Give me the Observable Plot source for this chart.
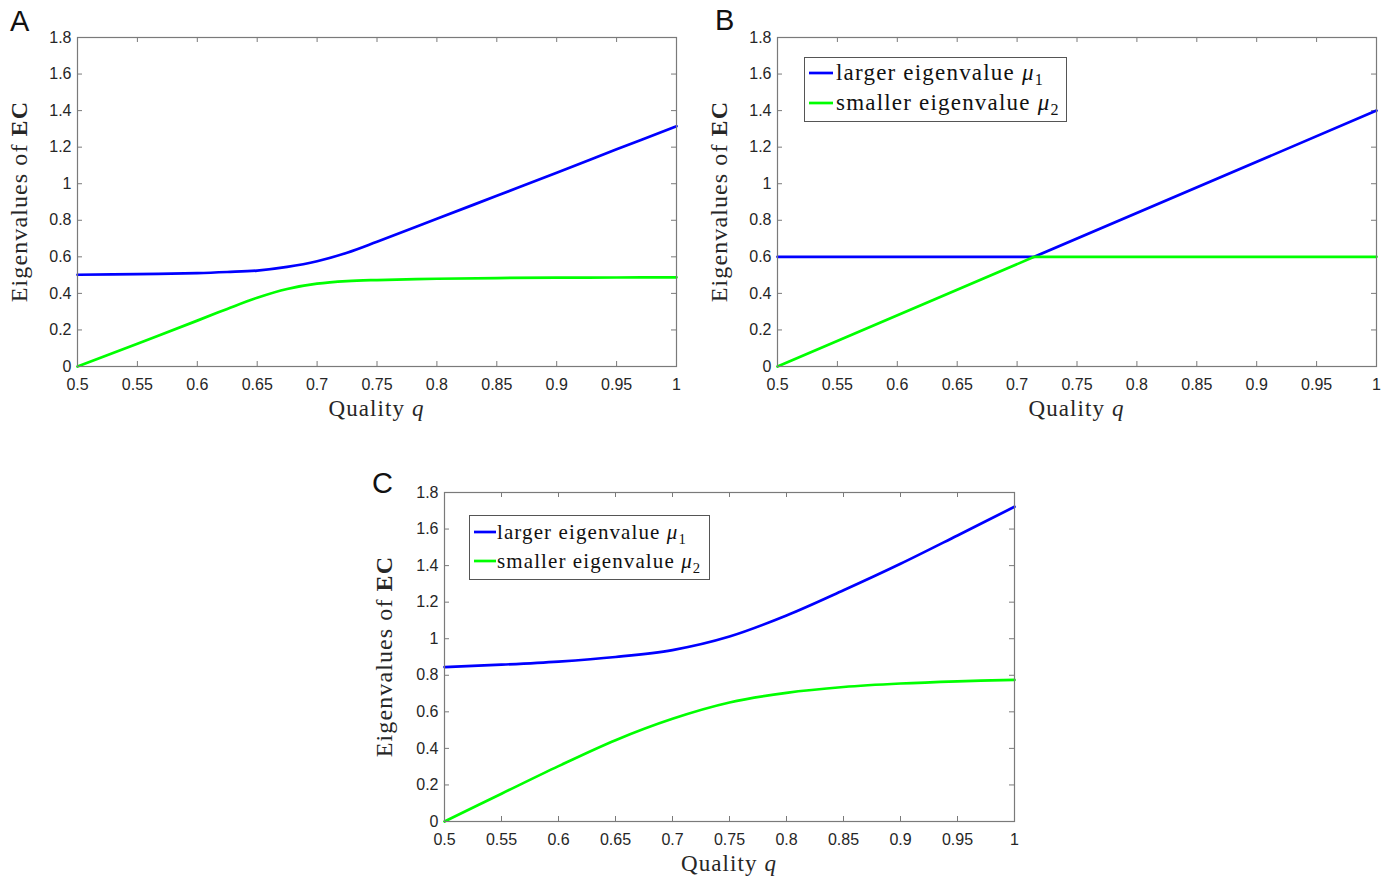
<!DOCTYPE html>
<html>
<head>
<meta charset="utf-8">
<script src="https://cdn.jsdelivr.net/npm/d3@7"></script>
<script src="https://cdn.jsdelivr.net/npm/@observablehq/plot@0.6"></script>
<style>
  body { margin: 0; background: #fff; }
  #wrap { position: relative; width: 1391px; height: 881px; overflow: hidden; background: #fff; }
  .panel { position: absolute; }
</style>
</head>
<body>
<div id="wrap"></div>
<script>
// ---- tick labels ----
const qTicks = [0.5, 0.55, 0.6, 0.65, 0.7, 0.75, 0.8, 0.85, 0.9, 0.95, 1];
const yTicks = [0, 0.2, 0.4, 0.6, 0.8, 1, 1.2, 1.4, 1.6, 1.8];

// ---- series ----
const seriesNames = ["larger eigenvalue", "smaller eigenvalue"];
const seriesSymbols = ["1", "2"];
const seriesColors = ["#0000ff", "#00ff00"];

// Panel A
const qA       = [0.5,   0.55,  0.6,   0.625, 0.65,  0.675, 0.7,   0.725, 0.75,  0.8,   0.85,  0.9,   0.95,  1];
const largerA  = [0.502, 0.505, 0.511, 0.517, 0.525, 0.545, 0.576, 0.622, 0.682, 0.808, 0.934, 1.06,  1.188, 1.315];
const smallerA = [0,     0.124, 0.251, 0.315, 0.376, 0.424, 0.453, 0.467, 0.473, 0.48,  0.484, 0.486, 0.487, 0.488];

// Panel B
const qB       = [0.5, 0.7143, 1];
const largerB  = [0.6, 0.6,    1.4];
const smallerB = [0,   0.6,    0.6];

// Panel C
const qC       = [0.5,   0.55,  0.6,   0.65,  0.7,   0.75,  0.8,   0.85,  0.9,   0.95,  1];
const largerC  = [0.845, 0.858, 0.875, 0.9,   0.938, 1.012, 1.127, 1.265, 1.41,  1.565, 1.722];
const smallerC = [0,     0.152, 0.303, 0.445, 0.562, 0.651, 0.704, 0.736, 0.755, 0.767, 0.775];

const panels = [
  {letter: "A", q: qA, larger: largerA, smaller: smallerA, curve: "catmull-rom",
   left: 77, top: 37, w: 599, h: 329, letterX: 8, letterY: 31, ylabDx: -50, legend: null},
  {letter: "B", q: qB, larger: largerB, smaller: smallerB, curve: "linear",
   left: 777, top: 37, w: 599, h: 329, letterX: 13, letterY: 30, ylabDx: -50,
   legend: {x: 27, y: 20, w: 262, h: 64, rows: [36, 66], sw0: 32, sw1: 56, tx: 59, fs: 23, ls: 1.2}},
  {letter: "C", q: qC, larger: largerC, smaller: smallerC, curve: "catmull-rom",
   left: 444, top: 492, w: 570, h: 329, letterX: 3, letterY: 38, ylabDx: -52,
   legend: {x: 25, y: 23, w: 240, h: 64, rows: [40, 69], sw0: 30, sw1: 52, tx: 53, fs: 21, ls: 1.1}}
];

const ML = 75, MT = 37, MR = 15, MB = 60;
const axisColor = "#7a7a7a";
const textColor = "#262626";
const fmtQ = d => String(+d.toFixed(2));
const fmtY = d => String(+d.toFixed(1));
const wrap = document.getElementById("wrap");

for (const p of panels) {
  const W = ML + p.w + MR, H = MT + p.h + MB;
  const ptsL = p.q.map((q, i) => [q, p.larger[i]]);
  const ptsS = p.q.map((q, i) => [q, p.smaller[i]]);
  const chart = Plot.plot({
    width: W, height: H,
    marginLeft: ML, marginTop: MT, marginRight: MR, marginBottom: MB,
    style: {fontFamily: "'Liberation Sans', Arial, sans-serif", fontSize: "16px", color: textColor, background: "transparent", overflow: "visible"},
    x: {domain: [0.5, 1]},
    y: {domain: [0, 1.8]},
    marks: [
      Plot.axisX({ticks: qTicks, tickSize: 0, tickPadding: 12, tickFormat: fmtQ, label: null, fontSize: 16, fill: textColor}),
      Plot.axisY({ticks: yTicks, tickSize: 0, tickPadding: 6, tickFormat: fmtY, label: null, fontSize: 16, fill: textColor}),
      Plot.tickX(qTicks, {x: d => d, insetTop: p.h - 5, stroke: axisColor}),
      Plot.tickX(qTicks, {x: d => d, insetBottom: p.h - 5, stroke: axisColor}),
      Plot.tickY(yTicks, {y: d => d, insetRight: p.w - 5, stroke: axisColor}),
      Plot.tickY(yTicks, {y: d => d, insetLeft: p.w - 5, stroke: axisColor}),
      Plot.line(ptsL, {stroke: seriesColors[0], strokeWidth: 2.7, curve: p.curve}),
      Plot.line(ptsS, {stroke: seriesColors[1], strokeWidth: 2.7, curve: p.curve}),
      Plot.frame({stroke: axisColor, strokeWidth: 1.2})
    ]
  });
  const div = document.createElement("div");
  div.className = "panel";
  div.style.left = (p.left - ML) + "px";
  div.style.top = (p.top - MT) + "px";
  div.appendChild(chart);
  wrap.appendChild(div);

  const svg = d3.select(chart);
  // panel letter
  svg.append("text").attr("x", p.letterX).attr("y", p.letterY).attr("text-anchor", "start")
    .attr("font-family", "'Liberation Sans', Arial, sans-serif").attr("font-size", 29)
    .attr("fill", "#111").text(p.letter);
  // x label
  const xl = svg.append("text").attr("x", ML + p.w / 2).attr("y", MT + p.h + 50)
    .attr("text-anchor", "middle").attr("font-family", "'Liberation Serif', 'Times New Roman', serif")
    .attr("font-size", 23).attr("letter-spacing", "1.1px").attr("fill", textColor);
  xl.append("tspan").text("Quality ");
  xl.append("tspan").attr("font-style", "italic").text("q");
  // y label
  const yl = svg.append("text")
    .attr("transform", `translate(${ML + p.ylabDx},${MT + p.h / 2}) rotate(-90)`)
    .attr("text-anchor", "middle").attr("font-family", "'Liberation Serif', 'Times New Roman', serif")
    .attr("font-size", 24).attr("letter-spacing", "1.1px").attr("fill", textColor);
  yl.append("tspan").text("Eigenvalues of ");
  yl.append("tspan").attr("font-weight", "bold").text("EC");
  // legend
  if (p.legend) {
    const L = p.legend;
    const g = svg.append("g").attr("transform", `translate(${ML},${MT})`);
    g.append("rect").attr("x", L.x + 0.5).attr("y", L.y + 0.5).attr("width", L.w).attr("height", L.h)
      .attr("fill", "#fff").attr("stroke", "#555").attr("stroke-width", 1);
    seriesNames.forEach((name, i) => {
      const ry = L.rows[i];
      g.append("line").attr("x1", L.sw0).attr("x2", L.sw1).attr("y1", ry).attr("y2", ry)
        .attr("stroke", seriesColors[i]).attr("stroke-width", 2.7);
      const t = g.append("text").attr("x", L.tx).attr("y", ry + 7).attr("text-anchor", "start")
        .attr("font-family", "'Liberation Serif', 'Times New Roman', serif")
        .attr("font-size", L.fs).attr("letter-spacing", L.ls + "px").attr("fill", "#111");
      t.append("tspan").text(name + " ");
      t.append("tspan").attr("font-style", "italic").text("\u03bc");
      t.append("tspan").attr("font-size", L.fs * 0.7).attr("dy", 5).text(seriesSymbols[i]);
    });
  }
}
</script>
</body>
</html>
